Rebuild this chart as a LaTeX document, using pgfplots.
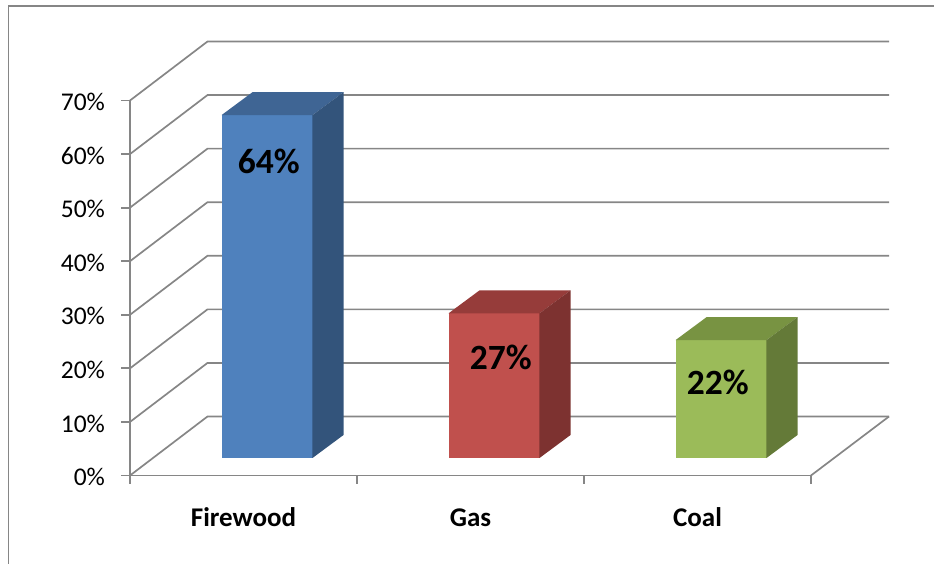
\documentclass[border=0pt]{standalone}
\usepackage{fontspec}
\setmainfont{Carlito}
\usepackage{pgfplots}
\pgfplotsset{compat=1.18}
\definecolor{axc}{HTML}{868686}
\definecolor{bluef}{HTML}{4F81BD}\definecolor{bluet}{HTML}{3F6594}\definecolor{blues}{HTML}{33547B}
\definecolor{redf}{HTML}{C0504D}\definecolor{redt}{HTML}{963C3A}\definecolor{reds}{HTML}{7D3230}
\definecolor{greenf}{HTML}{9BBB59}\definecolor{greent}{HTML}{789342}\definecolor{greens}{HTML}{647A38}
\begin{document}
\begin{tikzpicture}[x=1pt,y=1pt]
\path[use as bounding box] (0,0) rectangle (934,564);
\draw[axc,line width=1.9pt] (8.5,0) -- (8.5,558) -- (934,558);
\begin{axis}[
  at={(130pt,88.5pt)}, anchor=south west,
  scale only axis, width=681pt, height=375pt,
  xmin=0, xmax=3, ymin=0, ymax=70, clip=false,
  axis y line*=left, axis x line*=bottom,
  axis line style={draw=axc,line width=1.9pt,-},
  every tick/.style={draw=axc,line width=1.9pt},
  tick align=outside, major tick length=8.5pt,
  ytick={0,10,...,70},
  yticklabels={0\%,10\%,20\%,30\%,40\%,50\%,60\%,70\%},
  xtick={0,1,2,3}, xticklabels={},
  extra x ticks={0.5,1.5,2.5},
  extra x tick labels={\textbf{Firewood},\textbf{Gas},\textbf{Coal}},
  extra x tick style={major tick length=0pt,xticklabel style={yshift=-24pt}},
  tick label style={font=\fontsize{25.5}{28}\selectfont},
  yticklabel style={xshift=-13pt,yshift=-1.5pt},
  xticklabel style={font=\fontsize{27}{30}\selectfont,text height=20pt,text depth=0pt,yshift=-3.5pt},
]
% back wall and floor
\pgfplotsinvokeforeach{0,10,...,70}{
  \draw[axc,line width=1.7pt] (axis cs:0,#1) -- ([shift={(77.5pt,59pt)}]axis cs:0,#1) -- ([shift={(759pt,59pt)}]axis cs:0,#1);
}
\draw[axc,line width=1.7pt] (axis cs:3,0) -- ([shift={(78pt,59pt)}]axis cs:3,0);
% Firewood
\addplot[ybar,bar width=91pt,fill=bluef,draw=none,xshift=23.5pt,yshift=17.5pt] coordinates {(0.5,64)};
\addplot[fill=bluet,draw=none,xshift=23.5pt,yshift=17.5pt] coordinates {(0.2996,64) (0.7004,64) (0.8370,68.29) (0.4362,68.29)} --cycle;
\addplot[fill=blues,draw=none,xshift=23.5pt,yshift=17.5pt] coordinates {(0.7004,0) (0.8370,4.29) (0.8370,68.29) (0.7004,64)} --cycle;
% Gas
\addplot[ybar,bar width=91pt,fill=redf,draw=none,xshift=23.5pt,yshift=17.5pt] coordinates {(1.5,27)};
\addplot[fill=redt,draw=none,xshift=23.5pt,yshift=17.5pt] coordinates {(1.2996,27) (1.7004,27) (1.8370,31.29) (1.4362,31.29)} --cycle;
\addplot[fill=reds,draw=none,xshift=23.5pt,yshift=17.5pt] coordinates {(1.7004,0) (1.8370,4.29) (1.8370,31.29) (1.7004,27)} --cycle;
% Coal
\addplot[ybar,bar width=91pt,fill=greenf,draw=none,xshift=23.5pt,yshift=17.5pt] coordinates {(2.5,22)};
\addplot[fill=greent,draw=none,xshift=23.5pt,yshift=17.5pt] coordinates {(2.2996,22) (2.7004,22) (2.8370,26.29) (2.4362,26.29)} --cycle;
\addplot[fill=greens,draw=none,xshift=23.5pt,yshift=17.5pt] coordinates {(2.7004,0) (2.8370,4.29) (2.8370,26.29) (2.7004,22)} --cycle;
% data labels
\node[font=\fontsize{35.5}{38}\selectfont\bfseries] at (axis cs:0.612,58.6) {64\%};
\node[font=\fontsize{35.5}{38}\selectfont\bfseries] at (axis cs:1.634,22) {27\%};
\node[font=\fontsize{35.5}{38}\selectfont\bfseries] at (axis cs:2.589,17.3) {22\%};
\end{axis}
\end{tikzpicture}
\end{document}
